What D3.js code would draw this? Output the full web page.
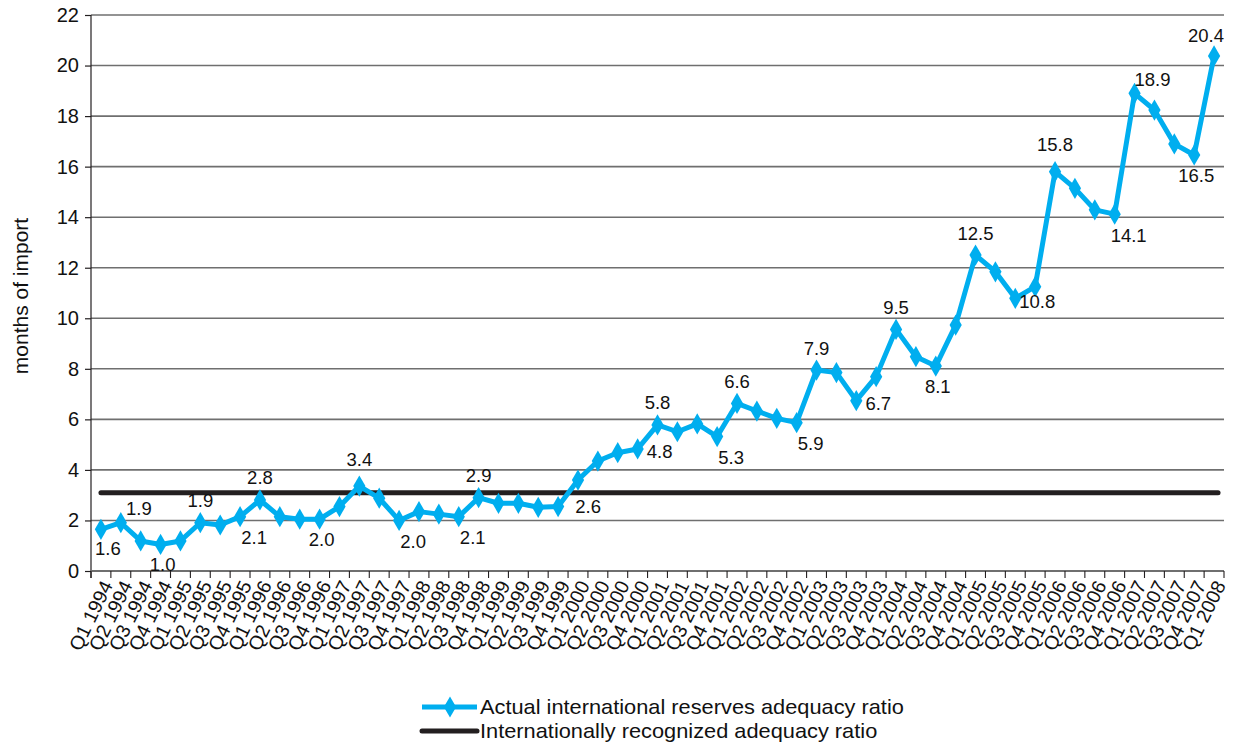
<!DOCTYPE html>
<html>
<head>
<meta charset="utf-8">
<script src="https://cdn.jsdelivr.net/npm/d3@7/dist/d3.min.js"></script>
<style>
html,body{margin:0;padding:0;background:#fff;}
svg{display:block;font-family:"Liberation Sans",Arial,Helvetica,sans-serif;}
</style>
</head>
<body>
<svg id="chart" width="1237" height="745"></svg>
<script>
// ---- data ----
const years = [1994,1995,1996,1997,1998,1999,2000,2001,2002,2003,2004,2005,2006,2007,2008];
const quarters = [];
years.forEach(yr => { for (let q = 1; q <= 4; q++) { if (yr === 2008 && q > 1) break; quarters.push("Q" + q + " " + yr); } });

const actualRatio = [
  1.65, 1.91, 1.19, 1.05, 1.19, 1.91, 1.82, 2.15, 2.81, 2.15,
  2.05, 2.05, 2.55, 3.36, 2.88, 2.0, 2.35, 2.25, 2.15, 2.9,
  2.68, 2.68, 2.52, 2.55, 3.6, 4.35, 4.68, 4.83, 5.78, 5.51,
  5.82, 5.32, 6.63, 6.33, 6.04, 5.87, 7.95, 7.85, 6.74, 7.69,
  9.56, 8.48, 8.11, 9.73, 12.5, 11.84, 10.79, 11.25, 15.8, 15.14,
  14.29, 14.12, 18.9, 18.24, 16.9, 16.46, 20.38
];
const recognizedRatio = 3.1;

// labelled points: index, label text, placement code
const labelIndex = [0,1,3,5,7,8,11,13,15,18,19,23,27,28,31,32,35,36,38,40,42,44,46,48,51,52,55,56];
const labelText  = ["1.6","1.9","1.0","1.9","2.1","2.8","2.0","3.4","2.0","2.1","2.9","2.6","4.8","5.8","5.3","6.6","5.9","7.9","6.7","9.5","8.1","12.5","10.8","15.8","14.1","18.9","16.5","20.4"];
const labelPlace = ["bb","tr","b","t","br","t","b","tt","br","br","t","rr","r","t","br","t","br","t","r","t","b","t","r","tt","br","tr","b","tl"];

const yTicks = [0,2,4,6,8,10,12,14,16,18,20,22];
const seriesNames = ["Actual international reserves adequacy ratio","Internationally recognized adequacy ratio"];
const yTitle = "months of import";

// ---- drawing ----
(function () {
const blue = "#00AEEF", black = "#231F20", grid = "#6f6f6f";
const svg = d3.select("#chart");
const pLeft = 91, pRight = 1224, pTop = 15, pBottom = 571;

const x = d3.scaleBand().domain(quarters).range([pLeft, pRight]).padding(0);
const y = d3.scaleLinear().domain([0, 22]).range([pBottom, pTop]);
const cx = d => x(d) + x.bandwidth() / 2;

// gridlines
svg.append("g").selectAll("line").data(yTicks.filter(t => t > 0)).join("line")
  .attr("x1", pLeft).attr("x2", pRight).attr("y1", d => y(d)).attr("y2", d => y(d))
  .attr("stroke", grid).attr("stroke-width", 1.6);

// y axis
const yAxis = svg.append("g").attr("transform", `translate(${pLeft},0)`)
  .call(d3.axisLeft(y).tickValues(yTicks).tickSize(6).tickPadding(6).tickFormat(d3.format("d")));
yAxis.select(".domain").remove();
yAxis.selectAll(".tick line").attr("stroke", black).attr("stroke-width", 1.2);
yAxis.selectAll("text").attr("font-size", 20).attr("fill", "#111").attr("font-family", "Liberation Sans, Arial, sans-serif");
svg.append("line").attr("x1", pLeft).attr("x2", pLeft).attr("y1", pTop).attr("y2", pBottom + 7)
  .attr("stroke", black).attr("stroke-width", 1.2);

// x axis
svg.append("line").attr("x1", pLeft).attr("x2", pRight).attr("y1", pBottom).attr("y2", pBottom)
  .attr("stroke", grid).attr("stroke-width", 2);
const boundaries = quarters.map(q => x(q)).concat([pRight]);
svg.append("g").selectAll("line").data(boundaries).join("line")
  .attr("x1", d => d).attr("x2", d => d).attr("y1", pBottom).attr("y2", pBottom + 7)
  .attr("stroke", black).attr("stroke-width", 1.1);
svg.append("g").selectAll("text").data(quarters).join("text")
  .attr("transform", d => `translate(${cx(d) + 6},${pBottom + 11}) rotate(-64)`)
  .attr("text-anchor", "end").attr("dominant-baseline", "central")
  .attr("font-size", 19.5).attr("fill", "#111")
  .text(d => d);

// y title
svg.append("text").attr("transform", `translate(20,${(pTop + pBottom) / 2 + 3}) rotate(-90)`)
  .attr("text-anchor", "middle").attr("dominant-baseline", "central")
  .attr("font-size", 21).attr("fill", "#111").text(yTitle);

// recognized ratio line
svg.append("line")
  .attr("x1", cx(quarters[0])).attr("x2", cx(quarters[quarters.length - 1]) + 4)
  .attr("y1", y(recognizedRatio)).attr("y2", y(recognizedRatio))
  .attr("stroke", black).attr("stroke-width", 5).attr("stroke-linecap", "round");

// actual series
const pts = quarters.map((q, i) => ({q, v: actualRatio[i]}));
svg.append("path").datum(pts)
  .attr("d", d3.line().x(d => cx(d.q)).y(d => y(d.v)))
  .attr("fill", "none").attr("stroke", blue).attr("stroke-width", 5).attr("stroke-linejoin", "round");
const diamond = d3.symbol().type(d3.symbolDiamond).size(130);
svg.append("g").selectAll("path").data(pts).join("path")
  .attr("transform", d => `translate(${cx(d.q)},${y(d.v)})`)
  .attr("d", diamond).attr("fill", blue);

// data labels
const place = {t: [0, -22], tt: [0, -27], b: [2, 20], bb: [7, 19], r: [22, 3], rr: [30, 0], tr: [18, -14], br: [14, 21], tl: [-8, -20]};
svg.append("g").selectAll("text").data(labelIndex).join("text")
  .attr("x", (d, i) => cx(quarters[d]) + place[labelPlace[i]][0])
  .attr("y", (d, i) => y(actualRatio[d]) + place[labelPlace[i]][1])
  .attr("text-anchor", "middle").attr("dominant-baseline", "central")
  .attr("font-size", 18.5).attr("fill", "#111")
  .text((d, i) => labelText[i]);

// legend
const lg = svg.append("g");
lg.append("line").attr("x1", 422).attr("x2", 477).attr("y1", 707).attr("y2", 707)
  .attr("stroke", blue).attr("stroke-width", 5);
lg.append("path").attr("transform", "translate(450,707)").attr("d", diamond).attr("fill", blue);
lg.append("line").attr("x1", 422).attr("x2", 477).attr("y1", 731).attr("y2", 731)
  .attr("stroke", black).attr("stroke-width", 5).attr("stroke-linecap", "round");
lg.selectAll("text").data(seriesNames).join("text")
  .attr("transform", (d, i) => `translate(480,${707 + i * 24}) scale(1.09,1)`)
  .attr("dominant-baseline", "central").attr("font-size", 20).attr("fill", "#111")
  .text(d => d);
})();
</script>
</body>
</html>
